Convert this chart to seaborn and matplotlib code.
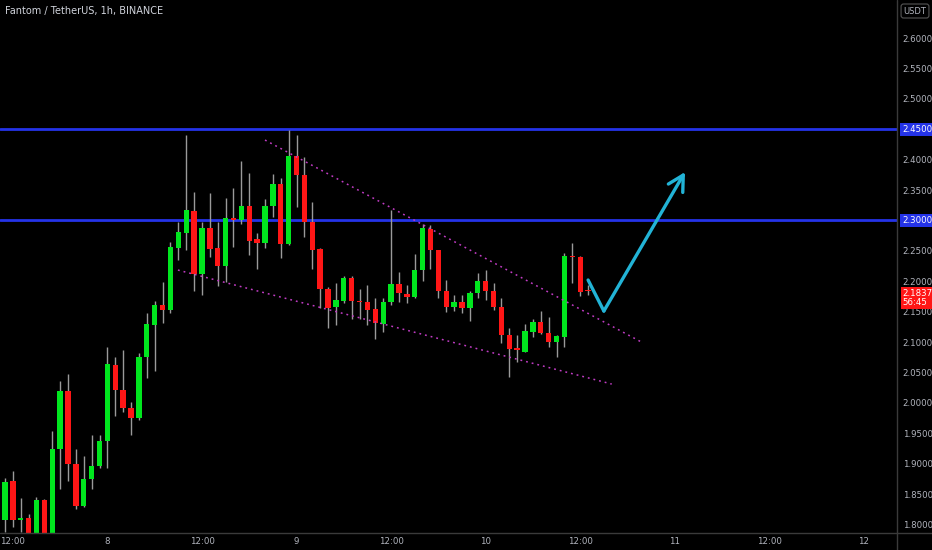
import seaborn as sns
import matplotlib.pyplot as plt
from matplotlib.lines import Line2D
from matplotlib.transforms import blended_transform_factory

# hourly candles, starting on the 7th at 11:00
opens = [1.8072, 1.8714, 1.8072, 1.8105, 1.7800, 1.8401, 1.7800, 1.9240, 2.0194, 1.8993,
         1.8303, 1.8747, 1.8961, 1.9372, 2.0622, 2.0211, 1.9914, 1.9750, 2.0753, 2.1280,
         2.1609, 2.1526, 2.2546, 2.2792, 2.3155, 2.2118, 2.2875, 2.2546, 2.2250, 2.3039,
         2.3007, 2.3237, 2.2694, 2.2628, 2.3237, 2.3599, 2.2612, 2.4059, 2.3747, 2.2974,
         2.2530, 2.1872, 2.1576, 2.1674, 2.2053, 2.1674, 2.1658, 2.1543, 2.1296, 2.1658,
         2.1954, 2.1790, 2.1740, 2.2184, 2.2859, 2.2513, 2.1839, 2.1576, 2.1658, 2.1560,
         2.1806, 2.2003, 2.1839, 2.1576, 2.1115, 2.0901, 2.0836, 2.1164, 2.1329, 2.1148,
         2.1000, 2.1082, 2.2414, 2.2398, 2.1855]
highs = [1.8763, 1.8878, 1.8434, 1.8171, 1.8451, 1.8420, 1.9536, 2.0359, 2.0474, 1.9240,
         1.9125, 1.9470, 1.9470, 2.0918, 2.0753, 2.0868, 2.0013, 2.0819, 2.1477, 2.1674,
         2.1987, 2.2645, 2.2974, 2.4405, 2.3467, 2.2974, 2.3450, 2.2974, 2.3368, 2.3533,
         2.3977, 2.3780, 2.2793, 2.3352, 2.3763, 2.3697, 2.4487, 2.4405, 2.4043, 2.3303,
         2.2550, 2.1900, 2.1970, 2.2086, 2.2086, 2.1872, 2.1937, 2.1724, 2.1724, 2.3171,
         2.2151, 2.1937, 2.2447, 2.2941, 2.2924, 2.2513, 2.2020, 2.1773, 2.1773, 2.1839,
         2.2135, 2.2184, 2.1970, 2.1724, 2.1230, 2.1115, 2.1296, 2.1378, 2.1510, 2.1411,
         2.1120, 2.2464, 2.2628, 2.2414, 2.1937]
lows = [1.7875, 1.7957, 1.7875, 1.7700, 1.7750, 1.7700, 1.7750, 1.8582, 1.8714, 1.8253,
        1.8286, 1.8582, 1.8930, 1.8928, 1.9783, 1.9849, 1.9470, 1.9720, 2.0408, 2.0523,
        2.1312, 2.1477, 2.2349, 2.2513, 2.1839, 2.1773, 2.2398, 2.1921, 2.1987, 2.2562,
        2.2941, 2.2431, 2.2201, 2.2546, 2.3056, 2.2382, 2.2595, 2.3220, 2.2727, 2.2201,
        2.1559, 2.1230, 2.1280, 2.1641, 2.1378, 2.1378, 2.1280, 2.1049, 2.1164, 2.1609,
        2.1658, 2.1641, 2.1720, 2.2003, 2.2201, 2.1724, 2.1493, 2.1510, 2.1477, 2.1345,
        2.1724, 2.1691, 2.1526, 2.0984, 2.0424, 2.0671, 2.0836, 2.1082, 2.1132, 2.0918,
        2.0753, 2.0918, 2.1970, 2.1757, 2.1773]
closes = [1.8697, 1.8072, 1.8105, 1.7743, 1.8401, 1.7800, 1.9240, 2.0194, 1.8993, 1.8303,
          1.8747, 1.8961, 1.9372, 2.0638, 2.0211, 1.9914, 1.9750, 2.0753, 2.1296, 2.1609,
          2.1526, 2.2562, 2.2809, 2.3171, 2.2118, 2.2875, 2.2530, 2.2250, 2.3039, 2.3007,
          2.3237, 2.2661, 2.2628, 2.3237, 2.3599, 2.2612, 2.4059, 2.3747, 2.2974, 2.2513,
          2.1872, 2.1559, 2.1691, 2.2053, 2.1674, 2.1658, 2.1526, 2.1312, 2.1658, 2.1954,
          2.1806, 2.1740, 2.2184, 2.2875, 2.2513, 2.1839, 2.1576, 2.1658, 2.1560, 2.1806,
          2.2003, 2.1839, 2.1576, 2.1115, 2.0885, 2.0868, 2.1181, 2.1329, 2.1148, 2.1000,
          2.1099, 2.2414, 2.2398, 2.1822, 2.1837]

tick_pos = [1, 13, 25, 37, 49, 61, 73, 85, 97, 109]
tick_labels = ["12:00", "8", "12:00", "9", "12:00", "10", "12:00", "11", "12:00", "12"]
price_ticks = [1.80, 1.85, 1.90, 1.95, 2.00, 2.05, 2.10, 2.15, 2.20, 2.25,
               2.30, 2.35, 2.40, 2.45, 2.50, 2.55, 2.60]

levels = [2.45, 2.30]
upper_x = [33.0, 81.0]
upper_y = [2.4322, 2.0984]
lower_x = [21.95, 77.0]
lower_y = [2.2184, 2.0309]
arrow_x = [74.0, 76.0, 86.3]
arrow_y = [2.202, 2.151, 2.3796]
last_price = 2.1837
countdown = "56:45"

sns.set_theme(style="dark", rc={"axes.facecolor": "black", "figure.facecolor": "black"})
plt.rcParams["font.family"] = ["DejaVu Sans"]

fig = plt.figure(figsize=(9.32, 5.5), dpi=100)
ax = fig.add_axes([0, 17 / 550, 897 / 932, 533 / 550])
ax.set_facecolor("black")

GREEN = "#00e61e"
RED = "#ff1616"
GREY = "#b2b5be"
BLUE = "#2433e8"

x = list(range(len(opens)))
colors = [GREEN if c >= o else RED for o, c in zip(opens, closes)]
heights = []
for o, c in zip(opens, closes):
    h = c - o
    if abs(h) < 0.0016:
        h = 0.0016 if h >= 0 else -0.0016
    heights.append(h)

ax.vlines(x, lows, highs, color="#9a9a9a", linewidth=1, zorder=2)
ax.bar(x, heights, bottom=opens, width=0.68, color=colors, linewidth=0, zorder=3)

for lv in levels:
    ax.axhline(lv, color=BLUE, linewidth=2, zorder=1)

# falling wedge
sns.lineplot(x=upper_x, y=upper_y, ax=ax, color="#c13cc4", linewidth=1.1,
             linestyle=(0, (1.2, 2.6)), zorder=4)
sns.lineplot(x=lower_x, y=lower_y, ax=ax, color="#c13cc4", linewidth=1.1,
             linestyle=(0, (1.2, 2.6)), zorder=4)

# projected move
ax.plot(arrow_x[:2], arrow_y[:2], color="#22b3d6", linewidth=2.4, zorder=5,
        solid_capstyle="round")
ax.annotate("", xy=(arrow_x[2], arrow_y[2]), xytext=(arrow_x[1], arrow_y[1]),
            arrowprops=dict(arrowstyle="->,head_length=0.55,head_width=0.3",
                            color="#22b3d6", lw=2.4, mutation_scale=20,
                            shrinkA=0, shrinkB=0), zorder=5)

ax.set_xlim(-0.63, 113.2)
ax.set_ylim(1.786, 2.6625)
ax.set_xticks(tick_pos)
ax.set_xticklabels(tick_labels)
ax.set_yticks(price_ticks)
# the level tags take the place of these labels
ax.set_yticklabels(["" if any(abs(p - lv) < 1e-9 for lv in levels) else f"{p:.4f}"
                    for p in price_ticks])
ax.yaxis.tick_right()
ax.tick_params(axis="both", length=0, colors=GREY, labelsize=6.2)
ax.tick_params(axis="x", pad=3)
ax.tick_params(axis="y", pad=4)
ax.grid(False)
for s in ax.spines.values():
    s.set_visible(False)

tr = blended_transform_factory(ax.transAxes, ax.transData)
for lv in levels:
    ax.text(1.006, lv, f"{lv:.4f}", transform=tr, ha="left", va="center",
            fontsize=6.2, color="white", clip_on=False, zorder=10,
            bbox=dict(boxstyle="square,pad=0.25", facecolor=BLUE, edgecolor="none"))
ax.text(1.006, last_price - 0.011, f"{last_price:.4f}\n{countdown}", transform=tr,
        ha="left", va="center", fontsize=6.2, color="white", linespacing=1.05,
        clip_on=False, zorder=10,
        bbox=dict(boxstyle="square,pad=0.2", facecolor=RED, edgecolor="none"))

fig.add_artist(Line2D([897 / 932, 897 / 932], [0, 1], color="#3a3a3a", linewidth=1))
fig.add_artist(Line2D([0, 1], [17 / 550, 17 / 550], color="#3a3a3a", linewidth=1))

fig.text(5 / 932, 1 - 11 / 550, "Fantom / TetherUS, 1h, BINANCE", color="#d1d4dc",
         fontsize=7, va="center", ha="left")
fig.text(915 / 932, 1 - 11 / 550, "USDT", color=GREY, fontsize=6, va="center",
         ha="center", bbox=dict(boxstyle="round,pad=0.3", facecolor="black",
                                edgecolor="#555555", linewidth=0.8))

fig.savefig("out.png", dpi=100, facecolor="black")
